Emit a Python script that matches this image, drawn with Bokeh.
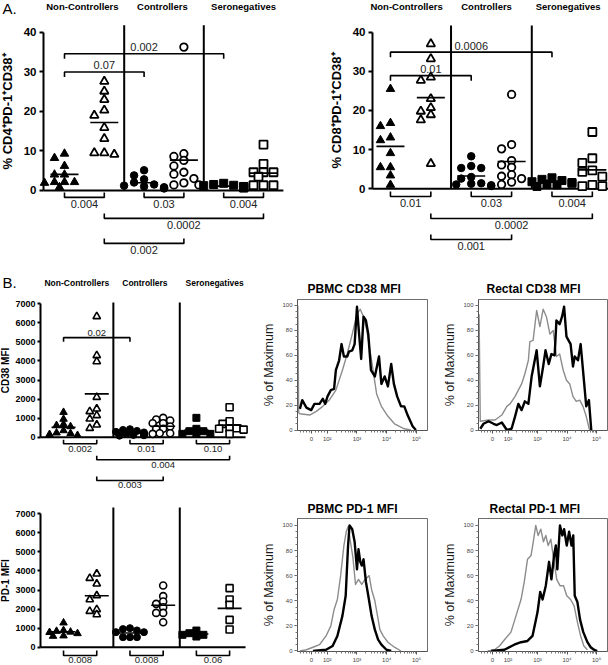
import numpy as np
from bokeh.plotting import figure
from bokeh.layouts import column, row
from bokeh.models import FixedTicker, Range1d
from bokeh.embed import file_html
from bokeh.resources import INLINE
from bokeh.core.properties import value

FONT = "Liberation Sans"

# ------------------------------------------------------------------ data
group_names = ["Non-Controllers", "Controllers", "Seronegatives"]

# Panel A left: % CD4+PD-1+CD38+  (filled = PBMC, open = rectal)
cd4_nc_pbmc = [9.3, 8.2, 6.2, 4.0, 4.0, 2.1, 2.1, 2.1, 1.9, 0.8]
cd4_nc_rectal = [27.6, 25.1, 23.0, 20.3, 19.0, 15.9, 13.1, 9.5, 9.1, 9.5]
cd4_ec_pbmc = [5.1, 3.8, 2.8, 2.0, 1.5, 1.2, 1.0, 0.8, 0.6, 0.5]
cd4_ec_rectal = [36.3, 9.3, 8.6, 7.6, 6.2, 4.6, 4.1, 3.0, 1.9, 1.4, 1.4]
cd4_sn_pbmc = [1.8, 1.5, 1.3, 1.2, 1.0, 0.9, 0.8, 0.7, 0.6]
cd4_sn_rectal = [11.6, 6.7, 4.6, 4.6, 4.6, 3.5, 1.3, 1.3, 1.3]
cd4_top_p = [(0, 4, "0.002"), (0, 2, "0.07")]
cd4_bottom_p = [(0, 1, "0.004"), (2, 3, "0.03"), (4, 5, "0.004"), (1, 5, "0.0002"), (1, 3, "0.002")]

# Panel A right: % CD8+PD-1+CD38+
cd8_nc_pbmc = [25.5, 16.8, 16.0, 13.1, 12.4, 9.1, 5.5, 5.5, 3.4, 1.0]
cd8_nc_rectal = [37.0, 33.2, 28.5, 27.7, 23.0, 20.7, 18.9, 19.8, 17.6, 6.4]
cd8_ec_pbmc = [8.3, 5.8, 5.3, 5.3, 3.0, 2.6, 1.4, 1.3, 1.1, 0.9, 0.7]
cd8_ec_rectal = [24.1, 11.3, 10.2, 7.2, 6.1, 5.5, 3.6, 3.2, 2.6, 1.7, 1.1]
cd8_sn_pbmc = [2.8, 2.4, 2.1, 1.8, 1.6, 1.4, 1.2, 1.0, 0.6]
cd8_sn_rectal = [14.5, 7.8, 6.6, 4.7, 4.3, 3.1, 1.0, 0.7, 0.7]
cd8_top_p = [(0, 4, "0.0006"), (0, 2, "0.01")]
cd8_bottom_p = [(0, 1, "0.01"), (2, 3, "0.03"), (4, 5, "0.004"), (1, 5, "0.0002"), (1, 3, "0.001")]

# Panel B: CD38 MFI
cd38_nc_pbmc = [1310, 950, 680, 620, 560, 350, 230, 200, 150, 100]
cd38_nc_rectal = [6335, 4290, 3970, 2100, 1490, 1350, 1140, 960, 650, 470]
cd38_ec_pbmc = [420, 380, 330, 280, 250, 200, 180, 150, 120, 100, 80]
cd38_ec_rectal = [1015, 930, 875, 735, 735, 560, 440, 440, 210, 210, 175]
cd38_sn_pbmc = [1015, 440, 315, 315, 175, 175, 175]
cd38_sn_rectal = [1575, 840, 700, 470, 470, 440, 400, 175]
cd38_top_p = [(0, 2, "0.02")]
cd38_bottom_p = [(0, 1, "0.002"), (2, 3, "0.01"), (4, 5, "0.10"), (1, 5, "0.004"), (1, 3, "0.003")]

# Panel B: PD-1 MFI
pd1_nc_pbmc = [1280, 880, 840, 800, 780, 720, 600, 580]
pd1_nc_rectal = [3850, 3620, 3325, 2710, 2500, 1980, 1890, 1715]
pd1_ec_pbmc = [1000, 950, 880, 790, 790, 525, 525, 525]
pd1_ec_rectal = [3240, 2680, 2400, 2275, 2100, 1800, 1800, 1310]
pd1_sn_pbmc = [875, 735, 650, 650, 560]
pd1_sn_rectal = [3100, 2500, 2220, 1435, 930]
pd1_bottom_p = [(0, 1, "0.008"), (2, 3, "0.008"), (4, 5, "0.06")]

# Histograms (x in display decades, y = % of maximum); gray and black overlays
mfi_tick_labels = ["0", "10²", "10³", "10⁴", "10⁵"]

pbmc_cd38_black_x = [1.08, 1.16, 1.30, 1.46, 1.57, 1.74, 1.85, 1.93, 2.01, 2.12, 2.23, 2.29, 2.40, 2.48, 2.56,
                     2.67, 2.73, 2.84, 2.92, 3.00, 3.05, 3.14, 3.22, 3.30, 3.38, 3.47, 3.60, 3.74, 3.82, 3.93,
                     4.04, 4.15, 4.24, 4.35, 4.48, 4.59, 4.70, 4.87, 4.98]
pbmc_cd38_black_y = [17, 24, 18, 16, 21, 21, 25, 21, 27, 32, 33, 48, 56, 69, 59, 59, 63, 64, 69, 99, 83, 57, 91,
                     88, 77, 48, 43, 59, 37, 43, 35, 53, 37, 27, 19, 19, 12, 3, 0]
pbmc_cd38_gray_x = [1.01, 1.04, 1.08, 1.41, 1.63, 1.85, 2.07, 2.29, 2.51, 2.67, 2.84, 3.00, 3.11, 3.22, 3.33,
                    3.49, 3.66, 3.82, 4.04, 4.26, 4.59, 4.81]
pbmc_cd38_gray_y = [100, 14, 13, 12, 15, 19, 24, 32, 48, 61, 77, 93, 97, 91, 80, 56, 29, 19, 11, 5, 1, 0]

rectal_cd38_black_x = [1.06, 1.17, 1.34, 1.51, 1.62, 1.79, 1.96, 2.12, 2.24, 2.35, 2.46, 2.57, 2.69, 2.80, 2.97,
                       3.08, 3.19, 3.27, 3.38, 3.47, 3.58, 3.64, 3.75, 3.83, 3.90, 3.98, 4.12, 4.20, 4.26, 4.37,
                       4.46, 4.54, 4.65, 4.74, 4.82]
rectal_cd38_black_y = [1, 5, 7, 5, 4, 6, 0, 1, 11, 21, 16, 23, 21, 43, 64, 35, 51, 64, 53, 61, 60, 88, 85, 91, 99,
                       75, 69, 51, 59, 56, 69, 48, 19, 24, 0]
rectal_cd38_gray_x = [1.02, 1.06, 1.34, 1.56, 1.79, 1.96, 2.07, 2.24, 2.35, 2.46, 2.57, 2.69, 2.74, 2.85, 2.97,
                      3.08, 3.19, 3.30, 3.42, 3.53, 3.64, 3.75, 3.87, 3.98, 4.09, 4.20, 4.31, 4.43, 4.54, 4.65, 4.76]
rectal_cd38_gray_y = [93, 7, 8, 8, 12, 19, 21, 27, 32, 37, 45, 56, 71, 72, 96, 83, 97, 91, 77, 80, 59, 61, 48, 40,
                      37, 27, 23, 24, 19, 11, 0]

pbmc_pd1_black_x = [1.52, 1.96, 2.18, 2.34, 2.51, 2.62, 2.70, 2.75, 2.84, 2.92, 3.00, 3.05, 3.11, 3.16, 3.22,
                    3.30, 3.38, 3.49, 3.60, 3.71, 3.82, 3.99, 4.15]
pbmc_pd1_black_y = [0, 1, 4, 12, 28, 44, 84, 100, 97, 87, 65, 81, 71, 68, 73, 55, 44, 28, 17, 9, 5, 1, 0]
pbmc_pd1_gray_x = [1.08, 1.30, 1.52, 1.74, 1.96, 2.12, 2.23, 2.34, 2.45, 2.56, 2.64, 2.70, 2.78, 2.86, 2.95,
                   3.05, 3.16, 3.27, 3.41, 3.49, 3.60, 3.69, 3.77, 3.88, 4.04, 4.26, 4.48]
pbmc_pd1_gray_y = [0, 1, 3, 5, 12, 20, 33, 41, 60, 84, 95, 99, 87, 75, 53, 57, 53, 57, 60, 49, 40, 28, 17, 12, 7, 3, 0]

rectal_pd1_black_x = [1.43, 1.88, 2.21, 2.44, 2.66, 2.83, 3.00, 3.09, 3.17, 3.28, 3.39, 3.47, 3.56, 3.62, 3.67,
                      3.76, 3.84, 3.90, 3.99, 4.07, 4.15, 4.21, 4.26, 4.35, 4.44, 4.55, 4.69, 4.80, 4.91, 5.02]
rectal_pd1_black_y = [0, 1, 5, 7, 8, 12, 31, 47, 41, 52, 71, 57, 76, 84, 65, 100, 92, 97, 84, 95, 84, 92, 44, 39,
                      25, 15, 7, 3, 1, 0]
rectal_pd1_gray_x = [1.31, 1.54, 1.71, 1.88, 2.10, 2.27, 2.44, 2.55, 2.66, 2.78, 2.87, 2.94, 3.02, 3.11, 3.20,
                     3.28, 3.36, 3.45, 3.56, 3.65, 3.76, 3.88, 3.99, 4.12, 4.24, 4.35, 4.46, 4.57, 4.69]
rectal_pd1_gray_y = [0, 1, 4, 9, 15, 28, 41, 55, 73, 76, 89, 100, 92, 97, 87, 92, 84, 89, 71, 57, 52, 52, 44, 41,
                     36, 23, 12, 4, 1]

# ------------------------------------------------------------------ helpers
MARKERS = [("triangle", True), ("triangle", False), ("circle", True),
           ("circle", False), ("square", True), ("square", False)]


def swarm_offsets(vals, step_px, min_d, ppu_x, ppu_y):
    vals = np.asarray(vals, dtype=float)
    order = np.argsort(-vals, kind="stable")
    cands = [0, -1, 1, -0.5, 0.5, -1.5, 1.5, -2, 2]
    placed = []
    offs = np.zeros(len(vals))
    for i in order:
        y = vals[i] * ppu_y
        chosen = cands[-1] * step_px
        for c in cands:
            x = c * step_px
            if all((x - px) ** 2 + (y - py) ** 2 >= min_d ** 2 for px, py in placed):
                chosen = x
                break
        placed.append((chosen, y))
        offs[i] = chosen / ppu_x
    return offs


def make_scatter(cfg, lists, top_p, bottom_p, ylabel, corner=None, headers=None):
    w, h = cfg["w"], cfg["h"]
    x0, x1 = cfg["xr"]
    y0, y1 = cfg["yr"]
    p = figure(width=w, height=h, x_range=Range1d(x0, x1), y_range=Range1d(y0, y1),
               x_axis_type=None, output_backend="svg", toolbar_location=None, title=None,
               min_border_left=0, min_border_right=0, min_border_top=0, min_border_bottom=0)
    p.outline_line_color = None
    p.ygrid.grid_line_color = None
    ppu_x = w / (x1 - x0)
    ppu_y = h / (y1 - y0)

    ax = p.yaxis[0]
    ax.fixed_location = cfg["axis_x"]
    ax.ticker = FixedTicker(ticks=cfg["yticks"])
    ax.bounds = (cfg["yticks"][0], cfg["yticks"][-1])
    ax.axis_line_width = 2
    ax.axis_line_color = "black"
    ax.major_tick_line_width = 2
    ax.major_tick_out = cfg["tick_out"]
    ax.major_tick_in = 0
    ax.minor_tick_line_color = None
    ax.major_label_text_font = FONT
    ax.major_label_text_font_style = "bold"
    ax.major_label_text_font_size = cfg["tick_fs"]
    ax.major_label_text_color = "black"
    ax.major_label_standoff = cfg["tick_standoff"]
    ax.axis_label = ylabel
    ax.axis_label_text_font = FONT
    ax.axis_label_text_font_style = "bold"
    ax.axis_label_text_font_size = cfg["label_fs"]
    ax.axis_label_text_color = "black"
    ax.axis_label_standoff = cfg["label_standoff"]

    n = len(lists)
    centers = np.arange(1, n + 1)
    seps = [(centers[1] + centers[2]) / 2, (centers[3] + centers[4]) / 2]

    # baseline and separators
    p.segment(x0=[cfg["axis_x"]], y0=[0], x1=[cfg["base_end"]], y1=[0], line_color="black", line_width=2)
    p.segment(x0=seps, y0=[0, 0], x1=seps, y1=[cfg["sep_top"]] * 2, line_color="black", line_width=2)

    # points and mean lines
    for i, vals in enumerate(lists):
        mk, filled = MARKERS[i]
        offs = swarm_offsets(vals, cfg["step"], cfg["min_d"], ppu_x, ppu_y)
        xs = centers[i] + offs
        p.scatter(xs, vals, marker=mk, size=cfg["msize"][mk],
                  fill_color="black" if filled else "white",
                  line_color="black", line_width=1.0 if filled else cfg["open_lw"])
        m = float(np.mean(vals))
        hw = cfg["mean_hw"] / ppu_x
        p.segment(x0=[centers[i] - hw], y0=[m], x1=[centers[i] + hw], y1=[m],
                  line_color="black", line_width=1.6)

    # brackets above
    for (a, b, lab), lev in zip(top_p, cfg["top_levels"]):
        t = cfg["top_tick"] / ppu_y
        p.line([centers[a], centers[a], centers[b], centers[b]], [lev - t, lev, lev, lev - t],
               line_color="black", line_width=1.6)
        p.text(x=[(centers[a] + centers[b]) / 2], y=[lev + cfg["top_gap"] / ppu_y],
               text=[lab], text_font=value(FONT), text_font_size=cfg["p_fs"],
               text_align="center", text_baseline="bottom", text_color="#222222")

    # brackets below
    levels = cfg["bottom_levels"]
    for k, (a, b, lab) in enumerate(bottom_p):
        lvl = 0 if k < 3 else k - 2
        yb = -levels[lvl] / ppu_y
        t = cfg["bottom_tick"] / ppu_y
        p.line([centers[a], centers[a], centers[b], centers[b]], [yb + t, yb, yb, yb + t],
               line_color="black", line_width=1.6)
        p.text(x=[(centers[a] + centers[b]) / 2], y=[yb - cfg["bottom_gap"] / ppu_y],
               text=[lab], text_font=value(FONT), text_font_size=cfg["p_fs"],
               text_align="center", text_baseline="top", text_color="#222222")

    if headers is not None:
        p.text(x=cfg["hx"], y=[cfg["hy"]] * 3, text=headers, text_font=value(FONT),
               text_font_style="bold", text_font_size=cfg["h_fs"], text_align="center",
               text_baseline="middle", text_color="black")
    if corner is not None:
        p.text(x=[x0 + 2 / ppu_x], y=[y1 - cfg["corner_dy"] / ppu_y], text=[corner],
               text_font=value(FONT), text_font_size="15px", text_align="left",
               text_baseline="middle", text_color="black")
    return p


def make_hist(w, h, bl, br, bt, bb, ytop, title, title_off, title_standoff, curves):
    xr0, xr1 = 1.0, 5.37
    yr0 = -0.4
    p = figure(width=w, height=h, x_range=Range1d(xr0, xr1), y_range=Range1d(yr0, ytop),
               output_backend="svg", toolbar_location=None, title=title,
               min_border_left=bl, min_border_right=br, min_border_top=bt, min_border_bottom=bb)
    p.title.align = "left"
    p.title.offset = title_off
    p.title.standoff = title_standoff
    p.title.text_font = FONT
    p.title.text_font_size = "12px"
    p.title.text_font_style = "bold"
    p.title.text_color = "black"
    p.grid.grid_line_color = None
    p.outline_line_color = "#6e6e6e"
    p.outline_line_width = 1

    zero_pos = 1.47
    major = [zero_pos, 2, 3, 4, 5]
    minor = [1.1, 1.2, 1.3, 1.4, 1.6, 1.7, 1.8, 1.9]
    for d in (2, 3, 4):
        minor += [d + float(np.log10(k)) for k in range(2, 10)]
    xa = p.xaxis[0]
    xa.ticker = FixedTicker(ticks=major, minor_ticks=minor)
    xa.major_label_overrides = {pos: lab for pos, lab in zip(major, mfi_tick_labels)}
    ya = p.yaxis[0]
    ya.ticker = FixedTicker(ticks=[0, 20, 40, 60, 80, 100], minor_ticks=list(range(0, 101, 5)))
    for a in (xa, ya):
        a.axis_line_color = "#555555"
        a.axis_line_width = 1
        a.major_tick_line_color = "#555555"
        a.minor_tick_line_color = "#777777"
        a.major_tick_out = 3
        a.major_tick_in = 0
        a.minor_tick_out = 2
        a.minor_tick_in = 0
        a.major_label_text_font = FONT
        a.major_label_text_font_size = "6px"
        a.major_label_text_color = "#444444"
        a.major_label_standoff = 2
    ya.axis_label = "% of Maximum"
    ya.axis_label_text_font = FONT
    ya.axis_label_text_font_style = "normal"
    ya.axis_label_text_font_size = "12.5px"
    ya.axis_label_text_color = "#1a1a1a"
    ya.axis_label_standoff = 3

    for xs, ys, col, lw in curves:
        p.line(xs, ys, line_color=col, line_width=lw, line_join="round")
    return p


# ------------------------------------------------------------------ panels
a_msize = {"triangle": 8.5, "circle": 7.5, "square": 8}
b_msize = {"triangle": 7.5, "circle": 7, "square": 7}

cfg_a1 = dict(w=300, h=274, xr=(-0.608, 6.93), axis_x=0.472, yr=(-21.3, 48.1), yticks=[0, 10, 20, 30, 40],
              tick_fs="11.5px", label_fs="13px", tick_out=4, tick_standoff=3, label_standoff=6,
              base_end=6.5, sep_top=41.8,
              step=10, min_d=6.5, msize=a_msize, open_lw=1.8, mean_hw=14,
              top_levels=[34.6, 30.0], top_tick=5, top_gap=2.5, p_fs="11px",
              bottom_levels=[7, 28, 53], bottom_tick=5, bottom_gap=2.5,
              hx=[1.45, 3.46, 5.5], hy=46.6, h_fs="9.5px", corner_dy=8)
cfg_a2 = dict(cfg_a1, w=308, xr=(-1.228, 6.40), axis_x=0.554, yr=(-21.9, 48.1), base_end=6.4, sep_top=41.7,
              top_levels=[34.9, 28.9], bottom_levels=[7.7, 29.7, 50.7], hx=[1.4, 3.38, 5.4], hy=46.6)
cfg_b1 = dict(w=258, h=221, xr=(-0.898, 6.87), axis_x=0.307, yr=(-3060, 8539),
              yticks=[0, 1000, 2000, 3000, 4000, 5000, 6000, 7000],
              tick_fs="9px", label_fs="10px", tick_out=3, tick_standoff=2, label_standoff=1,
              base_end=6.48, sep_top=7069,
              step=7, min_d=5, msize=b_msize, open_lw=1.6, mean_hw=12,
              top_levels=[5225], top_tick=4, top_gap=1.5, p_fs="9.5px",
              bottom_levels=[6.6, 22.6, 43.3], bottom_tick=4, bottom_gap=2,
              hx=[1.4, 3.45, 5.55], hy=8119, h_fs="8.5px", corner_dy=8)
cfg_b2 = dict(cfg_b1, h=170, yr=(-960, 7961), sep_top=7330, bottom_levels=[8.3], bottom_tick=5,
              bottom_gap=1)

pA1 = make_scatter(cfg_a1, [cd4_nc_pbmc, cd4_nc_rectal, cd4_ec_pbmc, cd4_ec_rectal, cd4_sn_pbmc, cd4_sn_rectal],
                   cd4_top_p, cd4_bottom_p, "% CD4⁺PD-1⁺CD38⁺", corner="A.", headers=group_names)
pA2 = make_scatter(cfg_a2, [cd8_nc_pbmc, cd8_nc_rectal, cd8_ec_pbmc, cd8_ec_rectal, cd8_sn_pbmc, cd8_sn_rectal],
                   cd8_top_p, cd8_bottom_p, "% CD8⁺PD-1⁺CD38⁺", headers=group_names)
pB1 = make_scatter(cfg_b1, [cd38_nc_pbmc, cd38_nc_rectal, cd38_ec_pbmc, cd38_ec_rectal, cd38_sn_pbmc,
                            cd38_sn_rectal], cd38_top_p, cd38_bottom_p, "CD38 MFI", corner="B.",
                   headers=group_names)
pB2 = make_scatter(cfg_b2, [pd1_nc_pbmc, pd1_nc_rectal, pd1_ec_pbmc, pd1_ec_rectal, pd1_sn_pbmc, pd1_sn_rectal],
                   [], pd1_bottom_p, "PD-1 MFI")

GRAY, BLACK = "#8c8c8c", "#000000"
pH1 = make_hist(182, 221, 39, 13, 25, 65, 104.8, "PBMC CD38 MFI", 10, 8,
                [(pbmc_cd38_gray_x, pbmc_cd38_gray_y, GRAY, 1.4),
                 (pbmc_cd38_black_x, pbmc_cd38_black_y, BLACK, 2.4)])
pH2 = make_hist(168, 221, 37, 1, 25, 65, 104.8, "Rectal CD38 MFI", 8, 8,
                [(rectal_cd38_gray_x, rectal_cd38_gray_y, GRAY, 1.4),
                 (rectal_cd38_black_x, rectal_cd38_black_y, BLACK, 2.4)])
pH3 = make_hist(182, 170, 39, 13, 23, 13, 105.5, "PBMC PD-1 MFI", 10, 6,
                [(pbmc_pd1_gray_x, pbmc_pd1_gray_y, GRAY, 1.4),
                 (pbmc_pd1_black_x, pbmc_pd1_black_y, BLACK, 2.4)])
pH4 = make_hist(168, 170, 37, 1, 23, 13, 105.5, "Rectal PD-1 MFI", 11, 6,
                [(rectal_pd1_gray_x, rectal_pd1_gray_y, GRAY, 1.4),
                 (rectal_pd1_black_x, rectal_pd1_black_y, BLACK, 2.4)])

layout = column(row(pA1, pA2, spacing=0),
                row(column(pB1, pB2, spacing=0), column(pH1, pH3, spacing=0),
                    column(pH2, pH4, spacing=0), spacing=0),
                spacing=0)

open("out.html", "w").write(file_html(layout, INLINE))
